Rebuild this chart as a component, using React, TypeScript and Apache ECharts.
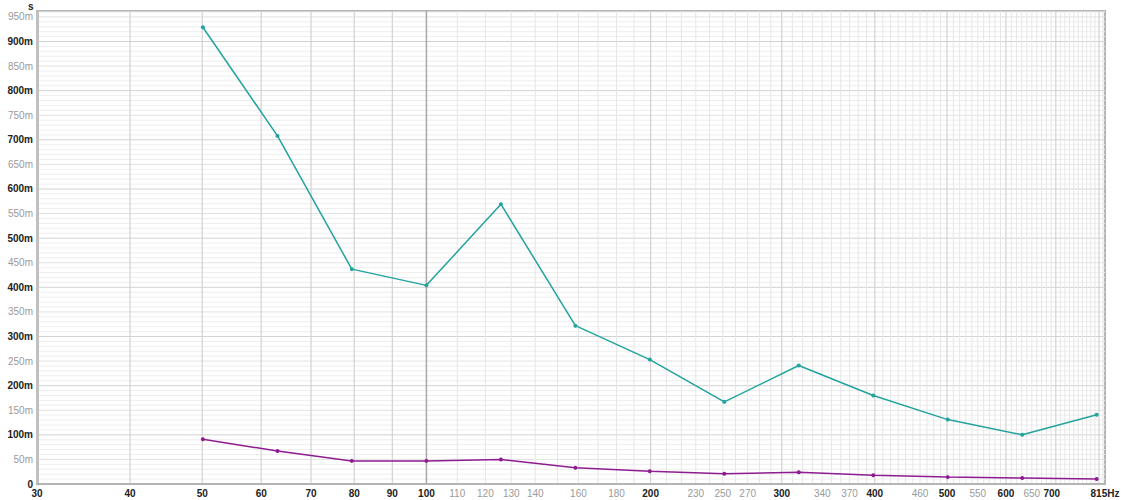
import React, { useEffect, useRef } from "react";
import * as echarts from "echarts";

// Third-octave band centre frequencies (Hz)
const FREQS = [50.1, 63.1, 79.4, 100, 125.9, 158.5, 199.5, 251.2, 316.2, 398.1, 501.2, 631, 794.3];
// Series values (seconds)
const TEAL_VALUES = [0.929, 0.708, 0.437, 0.404, 0.569, 0.322, 0.253, 0.167, 0.241, 0.18, 0.131, 0.1, 0.141];
const PURPLE_VALUES = [0.091, 0.067, 0.047, 0.047, 0.05, 0.033, 0.026, 0.021, 0.024, 0.018, 0.014, 0.012, 0.01];
// Tick labels
const X_LABELS = [30, 40, 50, 60, 70, 80, 90, 100, 110, 120, 130, 140, 160, 180, 200, 230, 250, 270, 300, 340, 370, 400, 460, 500, 550, 600, 650, 700, 815];
const X_BOLD = [30, 40, 50, 60, 70, 80, 90, 100, 200, 300, 400, 500, 600, 700, 815];
const Y_LABELS = [0, 0.05, 0.1, 0.15, 0.2, 0.25, 0.3, 0.35, 0.4, 0.45, 0.5, 0.55, 0.6, 0.65, 0.7, 0.75, 0.8, 0.85, 0.9, 0.95];

const X_MIN = 30;
const X_MAX = 815;
const Y_MAX = 0.962;

export default function App() {
  const ref = useRef<HTMLDivElement>(null);

  useEffect(() => {
    document.body.style.margin = "0";
    const chart = echarts.init(ref.current!, null, { renderer: "svg" });

    const gridItem = (params: any, api: any) => {
      const children: any[] = [];
      const top = api.coord([X_MIN, Y_MAX])[1];
      const bottom = api.coord([X_MIN, 0])[1];
      const left = api.coord([X_MIN, 0])[0];
      const right = api.coord([X_MAX, 0])[0];
      // horizontal lines every 10m
      for (let i = 1; i <= 96; i++) {
        const y = api.coord([X_MIN, i / 1000 * 10])[1];
        let stroke = "#eeeeee";
        if (i % 10 === 0) stroke = "#d2d2d2";
        else if (i % 5 === 0) stroke = "#e2e2e2";
        children.push({
          type: "line",
          shape: { x1: left, y1: y, x2: right, y2: y },
          style: { stroke, lineWidth: 1 },
        });
      }
      // vertical lines every 10 Hz
      for (let f = 40; f <= 810; f += 10) {
        const x = api.coord([f, 0])[0];
        let stroke = "#e6e6e6";
        let lw = 1;
        if (f === 100) {
          stroke = "#a8a8a8";
          lw = 1.5;
        } else if (f < 100 || f % 100 === 0) {
          stroke = "#d2d2d2";
          lw = 1.2;
        }
        children.push({
          type: "line",
          shape: { x1: x, y1: top, x2: x, y2: bottom },
          style: { stroke, lineWidth: lw },
        });
      }
      return { type: "group", children };
    };

    chart.setOption({
      animation: false,
      backgroundColor: "#ffffff",
      textStyle: { fontFamily: "Liberation Sans, Arial, sans-serif" },
      grid: {
        left: 37,
        right: 19,
        top: 11,
        bottom: 16,
        show: true,
        borderColor: "#b4b4b4",
        borderWidth: 2,
        backgroundColor: "#ffffff",
      },
      graphic: [
        {
          type: "text",
          left: 28,
          top: 1,
          style: { text: "s", fontSize: 10, fontWeight: "bold", fill: "#222", fontFamily: "Liberation Sans, Arial, sans-serif" },
        },
      ],
      xAxis: {
        type: "log",
        logBase: 10,
        min: X_MIN,
        max: X_MAX,
        axisLine: { show: true, lineStyle: { color: "#b4b4b4", width: 2 } },
        axisTick: { show: false },
        splitLine: { show: false },
        minorSplitLine: { show: false },
        axisLabel: {
          customValues: X_LABELS,
          margin: 4,
          fontSize: 10,
          formatter: (v: number) => {
            const r = Math.round(v);
            const txt = r === 815 ? "815Hz" : String(r);
            if (r === 700) return `{b7|${txt}}`;
            return X_BOLD.includes(r) ? `{b|${txt}}` : `{g|${txt}}`;
          },
          rich: {
            b: { color: "#222", fontSize: 10, fontWeight: "bold" },
            b7: { color: "#222", fontSize: 10, fontWeight: "bold", padding: [0, 8, 0, 0] },
            g: { color: "#9a9a9a", fontSize: 10 },
          },
        },
      },
      yAxis: {
        type: "value",
        min: 0,
        max: Y_MAX,
        axisLine: { show: true, lineStyle: { color: "#c0c0c0", width: 3 } },
        axisTick: { show: false },
        splitLine: { show: false },
        axisLabel: {
          customValues: Y_LABELS,
          margin: 4,
          fontSize: 10,
          formatter: (v: number) => {
            const m = Math.round(v * 1000);
            const txt = m === 0 ? "0" : `${m}m`;
            return m % 100 === 0 ? `{b|${txt}}` : `{g|${txt}}`;
          },
          rich: {
            b: { color: "#222", fontSize: 10, fontWeight: "bold" },
            g: { color: "#9a9a9a", fontSize: 10 },
          },
        },
      },
      series: [
        {
          type: "custom",
          silent: true,
          z: 0,
          encode: { x: 0, y: 1 },
          data: [[X_MIN, 0]],
          renderItem: gridItem,
        },
        {
          type: "line",
          z: 3,
          data: FREQS.map((f, i) => [f, TEAL_VALUES[i]]),
          lineStyle: { color: "#22a39e", width: 1.5 },
          itemStyle: { color: "#22a39e" },
          symbol: "circle",
          symbolSize: 4,
        },
        {
          type: "line",
          z: 3,
          data: FREQS.map((f, i) => [f, PURPLE_VALUES[i]]),
          lineStyle: { color: "#8f1b91", width: 1.5 },
          itemStyle: { color: "#8f1b91" },
          symbol: "circle",
          symbolSize: 4,
        },
      ],
    });

    return () => chart.dispose();
  }, []);

  return <div ref={ref} style={{ width: 1124, height: 500 }} />;
}
